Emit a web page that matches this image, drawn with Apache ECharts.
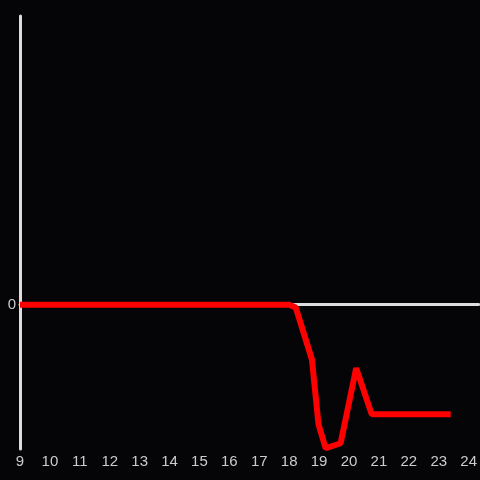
<!DOCTYPE html>
<html>
<head>
<meta charset="utf-8">
<script src="https://cdn.jsdelivr.net/npm/echarts@6/dist/echarts.min.js"></script>
<style>
  html, body { margin: 0; padding: 0; background: #050508; }
  #chart { width: 480px; height: 480px; }
</style>
</head>
<body>
<div id="chart"></div>
<script>
// hours on the x axis, values on y
var hours = [9, 10, 11, 12, 13, 14, 15, 16, 17, 18, 18.22, 18.76, 18.98, 19.22, 19.72, 20.24, 20.76, 23.4];
var values = [0, 0, 0, 0, 0, 0, 0, 0, 0, 0, -0.02, -0.38, -0.83, -0.995, -0.96, -0.44, -0.76, -0.76];

var chart = echarts.init(document.getElementById('chart'));
var option = {
  backgroundColor: '#050508',
  animation: false,
  grid: { left: 20, right: 0, top: 16, bottom: 31 },
  xAxis: {
    type: 'value',
    min: 9,
    max: 24.333,
    interval: 1,
    axisLine: { onZero: true, lineStyle: { color: '#dddddd', width: 3 } },
    axisTick: { show: false },
    splitLine: { show: false },
    axisLabel: {
      color: '#cccccc',
      fontSize: 15,
      margin: 5,
      showMaxLabel: false,
      formatter: function (v) { return Number.isInteger(v) ? String(v) : ''; }
    }
  },
  yAxis: {
    type: 'value',
    min: -1,
    max: 2,
    interval: 1,
    axisLine: { show: true, lineStyle: { color: '#dddddd', width: 3 } },
    axisTick: { show: false },
    splitLine: { show: false },
    axisLabel: {
      color: '#cccccc',
      fontSize: 15,
      margin: 4,
      formatter: function (v) { return v === 0 ? '0' : ''; }
    }
  },
  series: [{
    type: 'line',
    data: hours.map(function (h, i) { return [h, values[i]]; }),
    showSymbol: false,
    lineStyle: { color: '#ff0000', width: 6 },
    z: 5
  }]
};
chart.setOption(option);
</script>
</body>
</html>
